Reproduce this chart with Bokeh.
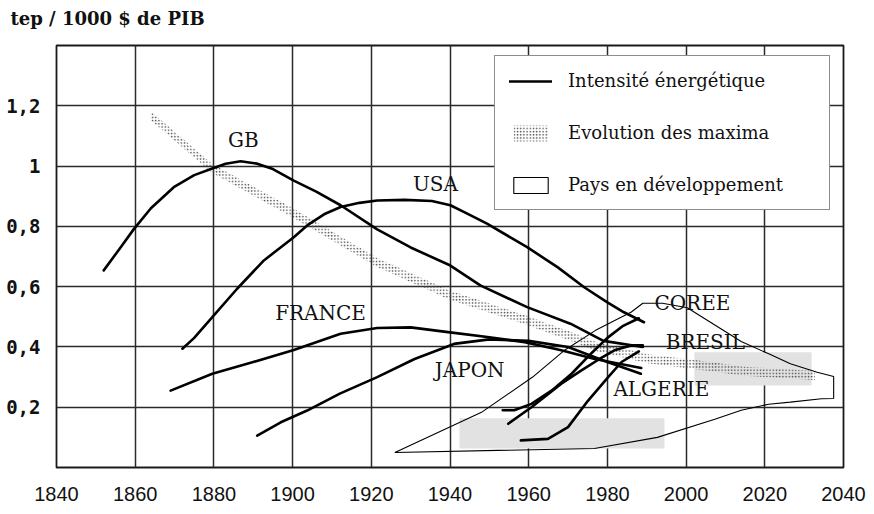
import numpy as np
from bokeh.plotting import figure
from bokeh.models import (FixedTicker, Range1d, Legend, LegendItem,
                          ColumnDataSource, Title)
from bokeh.core.properties import value
from bokeh.embed import file_html
from bokeh.resources import INLINE

# ---------------- data ----------------
x_ticks = [1840, 1860, 1880, 1900, 1920, 1940, 1960, 1980, 2000, 2020, 2040]
y_ticks = [0.2, 0.4, 0.6, 0.8, 1.0, 1.2]
y_tick_labels = ["0,2", "0,4", "0,6", "0,8", "1", "1,2"]

gb_year = [1852, 1856, 1859.6, 1864, 1869.8, 1875, 1879.6, 1883, 1886.8, 1891,
           1895, 1900.3, 1906, 1912.2, 1921.5, 1930, 1940.1, 1947.7, 1959.6,
           1970.6, 1979, 1989]
gb_val = [0.654, 0.725, 0.79, 0.86, 0.93, 0.97, 0.992, 1.008, 1.016, 1.008,
          0.99, 0.952, 0.915, 0.87, 0.79, 0.73, 0.67, 0.604, 0.532,
          0.477, 0.42, 0.40]

usa_year = [1872, 1875, 1879.6, 1885.9, 1892.7, 1900.3, 1903.7, 1908, 1912.2,
            1917, 1921.5, 1928.5, 1935.4, 1940.1, 1944, 1949.4, 1959.6, 1967.4,
            1974.1, 1980, 1984.2, 1989.3]
usa_val = [0.394, 0.43, 0.499, 0.593, 0.687, 0.764, 0.803, 0.84, 0.864,
           0.878, 0.886, 0.888, 0.884, 0.87, 0.845, 0.809, 0.731, 0.664,
           0.598, 0.548, 0.515, 0.482]

fr_year = [1869, 1879.6, 1890, 1900.3, 1912.2, 1921.5, 1930, 1939.5, 1950,
           1959, 1968, 1976.8, 1988.6]
fr_val = [0.255, 0.311, 0.35, 0.39, 0.444, 0.463, 0.465, 0.449, 0.432,
          0.416, 0.39, 0.36, 0.33]

jp_year = [1891, 1897, 1903.7, 1912, 1921.5, 1931, 1941, 1950, 1960, 1970,
           1980, 1988.5]
jp_val = [0.106, 0.15, 0.189, 0.245, 0.30, 0.36, 0.41, 0.425, 0.42, 0.40,
          0.35, 0.311]

kr_year = [1953.4, 1956.3, 1960.7, 1965.8, 1970.9, 1976, 1980, 1984, 1988]
kr_val = [0.19, 0.19, 0.211, 0.255, 0.311, 0.38, 0.43, 0.47, 0.495]

br_year = [1954.8, 1960.7, 1968.3, 1973.4, 1978, 1982, 1986, 1989]
br_val = [0.145, 0.20, 0.278, 0.322, 0.36, 0.39, 0.405, 0.405]

dz_year = [1958, 1964.9, 1970, 1975.1, 1980.2, 1983.6, 1988]
dz_val = [0.09, 0.095, 0.134, 0.222, 0.30, 0.35, 0.385]

# evolution of the maxima (centre of the stippled band)
max_year = [1863.9, 1879.6, 1900.3, 1921.5, 1940.1, 1959.6, 1972.3, 1977.6,
            1990.3, 2007.3, 2014, 2032.7]
max_val = [1.168, 0.992, 0.843, 0.68, 0.571, 0.488, 0.427, 0.399,
           0.361, 0.333, 0.32, 0.305]

# developing countries envelope (closed outline)
dev_year = [1926, 1948, 1961, 1969, 1977, 1983.6, 1986, 1989, 1994, 2000.3,
            2014, 2021, 2026.5, 2033.3, 2037.5, 2037.5, 2034.4, 2026.5, 2021,
            2014, 2007.3, 1992.7, 1976.7, 1926]
dev_val = [0.05, 0.183, 0.30, 0.388, 0.455, 0.499, 0.515, 0.545, 0.545, 0.53,
           0.418, 0.377, 0.344, 0.316, 0.302, 0.229, 0.228, 0.217, 0.21,
           0.19, 0.16, 0.10, 0.063, 0.05]

# light grey smudges
sm_left = [1942.4, 2002.1]
sm_right = [1994.5, 2031.9]
sm_bottom = [0.063, 0.272]
sm_top = [0.163, 0.382]

label_names = ["GB", "USA", "FRANCE", "JAPON", "COREE", "BRESIL", "ALGERIE"]
label_x = [1887.5, 1936.3, 1907.1, 1945.0, 2001.6, 2004.9, 1993.7]
label_y = [1.085, 0.942, 0.511, 0.325, 0.547, 0.415, 0.259]

title_text = "tep / 1000 $ de PIB"
legend_labels = ["Intensité énergétique", "Evolution des maxima",
                 "Pays en développement"]

# ---------------- figure ----------------
p = figure(width=866, height=508, output_backend="svg", toolbar_location=None,
           x_range=Range1d(1840, 2040), y_range=Range1d(0, 1.4),
           min_border_left=56, min_border_right=23, min_border_top=45,
           min_border_bottom=41)
p.background_fill_color = "white"
p.border_fill_color = "white"
p.outline_line_color = "#1a1a1a"
p.outline_line_width = 1.8

# spacer between the frame and the title, then the title itself
p.add_layout(Title(text=" ", text_font_size="1px", standoff=12), "above")
p.add_layout(Title(text=title_text, align="left", offset=-46, standoff=0,
                   vertical_align="top", text_font="DejaVu Serif",
                   text_font_style="bold", text_font_size="18px",
                   text_color="#111111"), "above")

p.xaxis.ticker = FixedTicker(ticks=x_ticks)
p.yaxis.ticker = FixedTicker(ticks=y_ticks)
p.yaxis.major_label_overrides = {t: l for t, l in zip(y_ticks, y_tick_labels)}
for ax in (p.xaxis[0], p.yaxis[0]):
    ax.axis_line_color = None
    ax.major_tick_line_color = None
    ax.minor_tick_line_color = None
p.xaxis.major_label_text_font = "Liberation Sans"
p.xaxis.major_label_text_font_size = "20px"
p.xaxis.major_label_text_color = "#111111"
p.xaxis.major_label_standoff = 13
p.yaxis.major_label_text_font = "DejaVu Sans Mono"
p.yaxis.major_label_text_font_style = "bold"
p.yaxis.major_label_text_font_size = "19px"
p.yaxis.major_label_text_color = "#111111"
p.yaxis.major_label_standoff = 10

p.xgrid.grid_line_color = "#2a2a2a"
p.ygrid.grid_line_color = "#2a2a2a"
p.xgrid.grid_line_width = 1.5
p.ygrid.grid_line_width = 1.5

# smudges
p.quad(left=sm_left, right=sm_right, bottom=sm_bottom, top=sm_top,
       fill_color="#e2e2e2", line_color=None)

# developing countries envelope
r_dev = p.patch(dev_year, dev_val, fill_color="white", fill_alpha=0.0,
                line_color="black", line_width=1.1)

# stippled band
hw = 0.015
mx = np.array(max_year)
my = np.array(max_val)
band_x = np.concatenate([mx, mx[::-1]])
band_y = np.concatenate([my + hw, (my - hw)[::-1]])
r_max = p.patch(band_x, band_y, fill_color="white", fill_alpha=0.0,
                line_color=None, hatch_pattern="dot", hatch_scale=3.2,
                hatch_weight=1.6, hatch_color="#4a4a4a")

# energy intensity curves
series = [(gb_year, gb_val), (usa_year, usa_val), (fr_year, fr_val),
          (jp_year, jp_val), (kr_year, kr_val), (br_year, br_val),
          (dz_year, dz_val)]
renderers = []
for xs, ys in series:
    renderers.append(p.line(xs, ys, line_color="black", line_width=2.6,
                            line_join="round", line_cap="round"))

# country labels
src = ColumnDataSource(dict(x=label_x, y=label_y, t=label_names))
p.text(x="x", y="y", text="t", source=src, text_font=value("DejaVu Serif"),
       text_font_size="20px", text_align="center", text_baseline="middle",
       text_color="#111111")

legend = Legend(items=[LegendItem(label=legend_labels[0], renderers=[renderers[0]]),
                       LegendItem(label=legend_labels[1], renderers=[r_max]),
                       LegendItem(label=legend_labels[2], renderers=[r_dev])],
                location=(438, 257), margin=0, padding=14, spacing=31,
                glyph_width=43, glyph_height=20, label_height=20,
                label_standoff=16, label_width=247,
                label_text_font="DejaVu Serif", label_text_font_size="18px",
                label_text_color="#111111",
                border_line_color="#1a1a1a", border_line_width=1.6,
                background_fill_color="white", background_fill_alpha=1)
p.add_layout(legend)

open("out.html", "w").write(file_html(p, INLINE))
